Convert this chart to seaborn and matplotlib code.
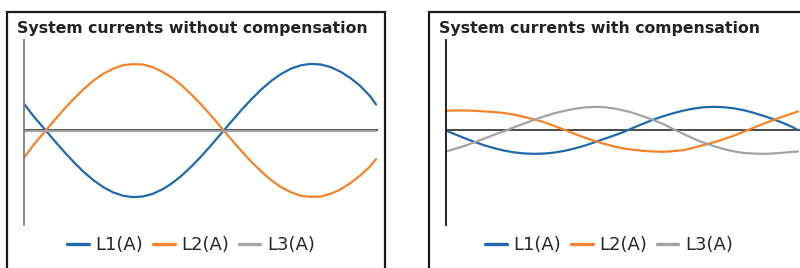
import pandas as pd
import numpy as np
import seaborn as sns
import matplotlib.pyplot as plt
from matplotlib.patches import Rectangle

# Phase angle (deg) and currents
angle = [0, 10, 20, 30, 40, 50, 60, 70, 80, 90, 100, 110, 120, 130, 140, 150, 160, 170, 180,
         190, 200, 210, 220, 230, 240, 250, 260, 270, 280, 290, 300, 310, 320, 330, 340, 350, 356]

# without compensation
wo_l1 = [40, 20.8, 3.5, -13.9, -30.9, -46.9, -61.6, -74.3, -84.8, -92.7, -97.8, -99.9, -99.0,
         -95.1, -88.3, -78.8, -66.9, -53.0, -37.5, -20.8, -3.5, 13.9, 30.9, 46.9, 61.6, 74.3,
         84.8, 92.7, 97.8, 99.9, 99.0, 95.1, 88.3, 78.8, 66.9, 51.5, 39]
wo_l2 = [-41, -21, -3.5, 14, 31, 47, 61.5, 74.5, 85, 92.5, 98, 99.5, 99,
         95, 88, 79, 67, 53, 37.5, 21, 3.5, -14, -31, -47, -61.5, -74.5,
         -85, -92.5, -98, -99.5, -99, -95, -88.5, -79, -67.5, -54, -43]
wo_l3 = [-1.5, -1.5, -1.5, -1.5, -1.5, -1.5, -1.5, -1.5, -1.5, -1.5, -1.5, -1.5, -1.5,
         -1.5, -1.5, -1.5, -1.5, -1.5, -1.5, -1.5, -1.5, -1.5, -1.5, -1.5, -1.5, -1.5,
         -1.5, -1.5, -1.5, -1.5, -1.5, -1.5, -1.5, -1.5, -1.5, -1.5, -1.5]

# with compensation
w_l1 = [0, -6.2, -12.2, -17.8, -22.8, -27, -30.5, -33, -34.5, -35, -34.5, -33, -30.5,
        -27, -22.8, -17.8, -12.5, -7.5, -2, 4.5, 10.5, 16.5, 21.5, 26, 29.8, 32.8,
        34.8, 35.5, 35, 33.5, 30.8, 27, 22.5, 17.5, 11.8, 5.5, 0.5]
w_l2 = [29.5, 30, 30, 29.5, 28.5, 27.5, 26, 23.5, 20, 16.5, 12, 6.5, 1,
        -5, -10.5, -15.5, -20, -24, -27, -29, -30.5, -31.5, -32, -31, -29.5, -26,
        -22, -18, -13.5, -8.5, -2.5, 3.5, 9.5, 15, 20.5, 25.5, 28.5]
w_l3 = [-31.5, -27, -22.5, -17, -11.5, -5.5, -0.5, 5.5, 11, 16.5, 21.5, 26, 29.5,
        32.5, 34.5, 35.5, 35, 33, 30, 26, 21, 15.5, 9.5, 2, -5, -12,
        -18, -23, -27.5, -31, -33.5, -34.5, -35, -34.5, -33.5, -32, -31.5]

phases = ["L1(A)", "L2(A)", "L3(A)"]
titles = ["System currents without compensation", "System currents with compensation"]
colors = ["#1f6aad", "#f5832a", "#a3a3a3"]


def long_df(l1, l2, l3):
    return pd.DataFrame({
        "angle": angle * 3,
        "current": l1 + l2 + l3,
        "phase": [phases[0]] * len(angle) + [phases[1]] * len(angle) + [phases[2]] * len(angle),
    })


sns.set_style("white")
plt.rcParams['font.family'] = ['DejaVu Sans']

fig = plt.figure(figsize=(8, 2.68), dpi=100)
W, H = 800, 268

panels = [
    (long_df(wo_l1, wo_l2, wo_l3), 24, 7, "#808080", 191),
    (long_df(w_l1, w_l2, w_l3), 446, 429, "#111111", 609),
]

for i, (df, ax_left, box_left, spine_col, leg_x) in enumerate(panels):
    ax = fig.add_axes([ax_left / W, (H - 225) / H, 354 / W, 185 / H])
    ax.axhline(0, color="#3a3a3a", lw=1.3, zorder=1)
    sns.lineplot(data=df, x="angle", y="current", hue="phase", palette=colors,
                 hue_order=phases, linewidth=1.6, ax=ax, legend=True, zorder=2,
                 solid_joinstyle="round")
    ax.set_xlim(0, 358)
    ax.set_ylim(-141.7, 135.7)
    ax.set_xticks([])
    ax.set_yticks([])
    ax.set_xlabel("")
    ax.set_ylabel("")
    for s in ["top", "right", "bottom"]:
        ax.spines[s].set_visible(False)
    ax.spines["left"].set_color(spine_col)
    ax.spines["left"].set_linewidth(1.3)

    handles, labels = ax.get_legend_handles_labels()
    ax.get_legend().remove()
    for h in handles:
        h.set_linewidth(2.4)
    fig.legend(handles, labels, loc="center", bbox_to_anchor=(leg_x / W, (H - 245) / H),
               ncol=3, frameon=False, fontsize=13, handlelength=1.2,
               handletextpad=0.35, columnspacing=0.55)

    # panel frame, cut off by the figure edges like the reference
    fig.add_artist(Rectangle((box_left / W, -0.2), 378 / W, (H - 12) / H + 0.2,
                             transform=fig.transFigure, fill=False,
                             edgecolor="#1a1a1a", linewidth=1.6))
    fig.text((box_left + 10) / W, (H - 33) / H, titles[i], fontsize=11.3,
             fontweight="bold", color="#222222", va="baseline", ha="left")

plt.savefig("out.png", dpi=100)
